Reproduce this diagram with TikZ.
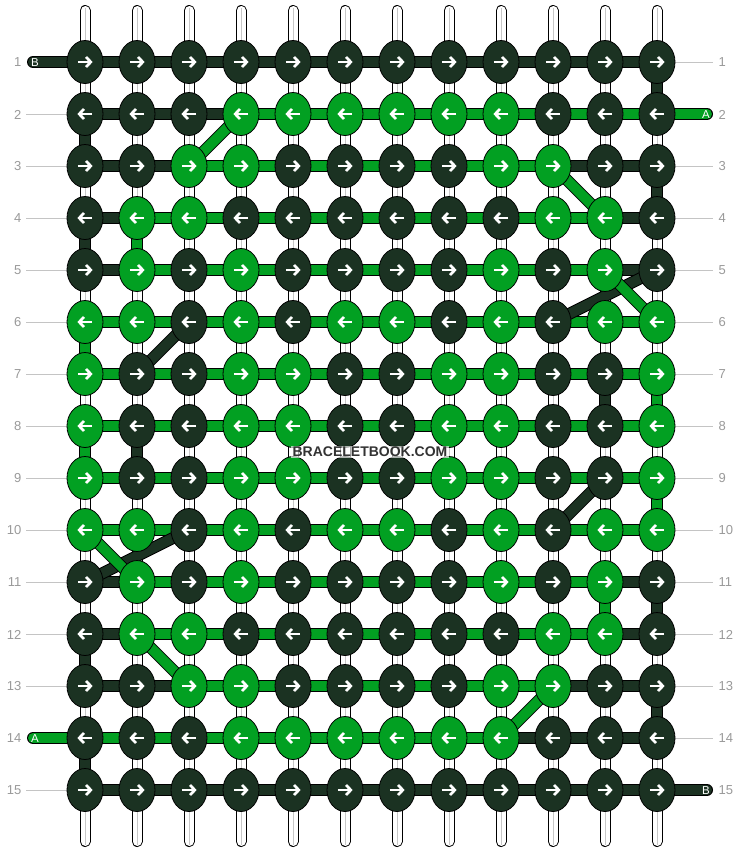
\documentclass[tikz,border=0pt]{standalone}
\usepackage{fontspec}
\setmainfont{Liberation Sans}
\usetikzlibrary{shapes.geometric}
\definecolor{D}{HTML}{1B3222}
\definecolor{G}{HTML}{02A022}
\definecolor{lblgray}{HTML}{9A9A9A}
\definecolor{linegray}{HTML}{C4C4C4}
\newcommand\strandseg[3]{%
  \draw[black,line width=12] (#2) -- (#3);
  \draw[#1,line width=10] (#2) -- (#3);}
\newcommand\tailseg[3]{%
  \draw[black,line width=12,line cap=round] (#2) -- (#3);
  \draw[#1,line width=10,line cap=round] (#2) -- (#3);}
\newcommand\knotarrow[2]{%
  \draw[white,line width=2.7] ([xshift={(-7.2)*(#2)}]#1.center) -- ([xshift={(5.5)*(#2)}]#1.center);
  \draw[white,line width=2.7,line join=miter] ([xshift={(1.0)*(#2)},yshift=5]#1.center) -- ([xshift={(5.8)*(#2)}]#1.center) -- ([xshift={(1.0)*(#2)},yshift=-5]#1.center);}
\begin{document}
\begin{tikzpicture}[x=1pt,y=-1pt,
  knot/.style={ellipse,draw=black,line width=0.8,minimum width=36,minimum height=43,inner sep=0},
  lbl/.style={text=lblgray,font=\fontsize{13}{13}\selectfont,inner sep=0},
  taillbl/.style={text=white,font=\fontsize{11.5}{11.5}\selectfont,inner sep=0},
  guide/.style={draw=linegray,line width=1}]
\useasboundingbox (0,0) rectangle (740,852);
\fill[white] (0,0) rectangle (740,852);
% grid coordinates
\foreach \r in {1,...,15} {
  \foreach \c in {1,...,12} {
    \coordinate (p-\r-\c) at ({85+52*(\c-1)},{62+52*(\r-1)});
  }
}
% white warp tubes
\foreach \c in {1,...,12} {
  \coordinate (tt-\c) at ({85+52*(\c-1)},10.5);
  \coordinate (tb-\c) at ({85+52*(\c-1)},841.5);
  \coordinate (gt-\c) at ({85.3+52*(\c-1)},7.5);
  \coordinate (gb-\c) at ({85.3+52*(\c-1)},844.5);
  \draw[black,line width=11,line cap=round] (tt-\c) -- (tb-\c);
  \draw[white,line width=9,line cap=round] (tt-\c) -- (tb-\c);
  \draw[black!22,line width=1.4] (gt-\c) -- (gb-\c);
}
% guide lines to row labels
\foreach \r in {2,...,13,15} {
  \coordinate (gl-\r) at (26,{62+52*(\r-1)});
  \draw[guide] (gl-\r) -- (p-\r-1);
}
\foreach \r in {1,3,4,...,14} {
  \coordinate (gr-\r) at (713,{62+52*(\r-1)});
  \draw[guide] (p-\r-12) -- (gr-\r);
}
% horizontal strand segments
\foreach \r/\row in {
  1/{D,D,D,D,D,D,D,D,D,D,D},
  2/{D,D,D,G,G,G,G,G,G,G,G},
  3/{D,D,G,G,G,G,G,G,G,D,D},
  4/{D,G,G,G,G,G,G,G,G,G,D},
  5/{D,G,G,G,G,G,G,G,G,G,D},
  6/{G,G,G,G,G,G,G,G,G,G,G},
  7/{G,G,G,G,G,G,G,G,G,G,G},
  8/{G,G,G,G,G,G,G,G,G,G,G},
  9/{G,G,G,G,G,G,G,G,G,G,G},
  10/{G,G,G,G,G,G,G,G,G,G,G},
  11/{D,G,G,G,G,G,G,G,G,G,D},
  12/{D,G,G,G,G,G,G,G,G,G,D},
  13/{D,D,G,G,G,G,G,G,G,D,D},
  14/{G,G,G,G,G,G,G,G,D,D,D},
  15/{D,D,D,D,D,D,D,D,D,D,D}} {
  \foreach \k [count=\c] in \row {
    \pgfmathtruncatemacro\n{\c+1}
    \strandseg{\k}{p-\r-\c}{p-\r-\n}
  }
}
% vertical strand segments
\foreach \r/\c/\k in {1/12/D,2/1/D,3/12/D,4/1/D,4/2/G,6/1/G,7/11/D,7/12/G,8/1/G,8/2/D,9/12/G,11/11/G,11/12/D,12/1/D,13/12/D,14/1/D} {
  \pgfmathtruncatemacro\n{\r+1}
  \strandseg{\k}{p-\r-\c}{p-\n-\c}
}
% diagonal strand segments
\foreach \ra/\ca/\rb/\cb/\k in {2/4/3/3/G,3/10/4/11/G,5/12/6/10/D,5/11/6/12/G,6/3/7/2/D,9/11/10/10/D,10/3/11/1/D,10/1/11/2/G,12/2/13/3/G,13/10/14/9/G} {
  \strandseg{\k}{p-\ra-\ca}{p-\rb-\cb}
}
% tails
\coordinate (tailB1) at (33,62);
\coordinate (tailA2) at (707,114);
\coordinate (tailA14) at (33,738);
\coordinate (tailB15) at (707,790);
\tailseg{D}{tailB1}{p-1-1}
\tailseg{G}{p-2-12}{tailA2}
\tailseg{G}{tailA14}{p-14-1}
\tailseg{D}{p-15-12}{tailB15}
\node[taillbl] (tlB1) at (35,62.5) {B};
\node[taillbl] (tlA2) at (706,114.5) {A};
\node[taillbl] (tlA14) at (35,738.5) {A};
\node[taillbl] (tlB15) at (706,790.5) {B};
% knots
\foreach \r/\row in {
  1/{D,D,D,D,D,D,D,D,D,D,D,D},
  2/{D,D,D,G,G,G,G,G,G,D,D,D},
  3/{D,D,G,G,D,D,D,D,G,G,D,D},
  4/{D,G,G,D,D,D,D,D,D,G,G,D},
  5/{D,G,D,G,D,D,D,D,G,D,G,D},
  6/{G,G,D,G,D,G,G,D,G,D,G,G},
  7/{G,D,D,G,G,D,D,G,G,D,D,G},
  8/{G,D,D,G,G,D,D,G,G,D,D,G},
  9/{G,D,D,G,G,D,D,G,G,D,D,G},
  10/{G,G,D,G,D,G,G,D,G,D,G,G},
  11/{D,G,D,G,D,D,D,D,G,D,G,D},
  12/{D,G,G,D,D,D,D,D,D,G,G,D},
  13/{D,D,G,G,D,D,D,D,G,G,D,D},
  14/{D,D,D,G,G,G,G,G,G,D,D,D},
  15/{D,D,D,D,D,D,D,D,D,D,D,D}} {
  \foreach \k [count=\c] in \row {
    \node[knot,fill=\k] (k-\r-\c) at (p-\r-\c) {};
    \ifodd\r\relax
      \knotarrow{k-\r-\c}{1}
    \else
      \knotarrow{k-\r-\c}{-1}
    \fi
  }
}
% row labels
\foreach \r in {1,...,15} {
  \node[lbl,anchor=east] (ll-\r) at (21.5,{62.5+52*(\r-1)}) {\r};
  \node[lbl,anchor=west] (rl-\r) at (718.5,{62.5+52*(\r-1)}) {\r};
}
% watermark
\node[fill=white,fill opacity=0.65,text opacity=1,text=black!80,font=\bfseries\fontsize{14}{14}\selectfont,inner sep=1.5] (wm) at (370,452) {BRACELETBOOK.COM};
\end{tikzpicture}
\end{document}
